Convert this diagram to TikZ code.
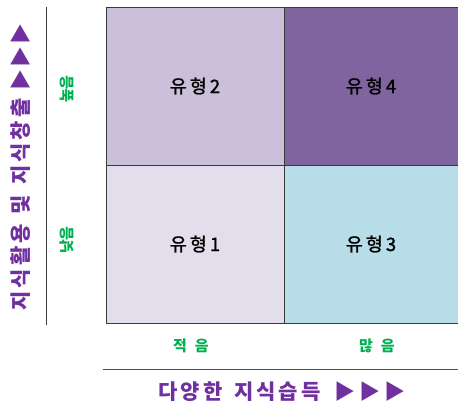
\documentclass[tikz,border=0pt]{standalone}
\usepackage{fontspec}
\newfontfamily\kr{Noto Sans CJK KR}
\newfontfamily\krm[FakeBold=1.2]{Noto Sans CJK KR}
\definecolor{cA}{HTML}{E4DEEC}
\definecolor{cB}{HTML}{CAC0DA}
\definecolor{cC}{HTML}{B7DDE8}
\definecolor{cD}{HTML}{8064A0}
\definecolor{tpurple}{HTML}{7030A0}
\definecolor{tgreen}{HTML}{00B050}
\definecolor{edge}{HTML}{3A3A3A}
\newcommand{\g}[1]{\hspace{#1pt}}
\tikzset{
  cell/.style={draw=edge, line width=0.9pt, minimum width=#1, minimum height=158pt, inner sep=0pt, font=\krm\fontsize{18.5}{20}\selectfont},
  lvl/.style={text=tgreen, inner sep=0pt, font=\kr\bfseries\fontsize{15}{16}\selectfont},
  ttl/.style={text=tpurple, inner sep=0pt, font=\kr\bfseries\fontsize{21}{22}\selectfont},
  axis/.style={draw=edge, line width=1pt}
}
\begin{document}
\begin{tikzpicture}[x=1pt,y=-1pt]
\useasboundingbox (0,0) rectangle (458,407);
\node[cell=178pt, fill=cB] (c2) at (195,86) {유\g{3}형\g{3}2};
\node[cell=174pt, fill=cD] (c4) at (371,86) {유\g{3}형\g{3}4};
\node[cell=178pt, fill=cA] (c1) at (195,244) {유\g{3}형\g{3}1};
\node[cell=174pt, fill=cC] (c3) at (371,244) {유\g{3}형\g{3}3};
\coordinate (vt) at (46,7);
\coordinate (vb) at (46,325);
\draw[axis] (vt) -- (vb);
\coordinate (hl) at (103,369);
\coordinate (hr) at (458,369);
\draw[axis, draw=edge!90] (hl) -- (hr);
\node[lvl, rotate=90] (hi) at (66.5,89) {높음};
\node[lvl, rotate=90] (lo) at (66.5,240) {낮음};
\node[lvl] (few) at (191,346) {적\g{8}음};
\node[lvl] (many) at (377,346) {많\g{8}음};
\node[ttl] (xt) at (282,392) {다\g{3}양\g{3}한\g{12}지\g{3}식\g{3}습\g{3}득\g{14}▶\g{4}▶\g{4}▶};
\node[ttl, rotate=90] (yt) at (21,167) {지\g{3}식\g{3}활\g{3}용\g{10}및\g{10}지\g{3}식\g{3}창\g{3}출\g{8}▶\g{2}▶\g{2}▶};
\end{tikzpicture}
\end{document}
